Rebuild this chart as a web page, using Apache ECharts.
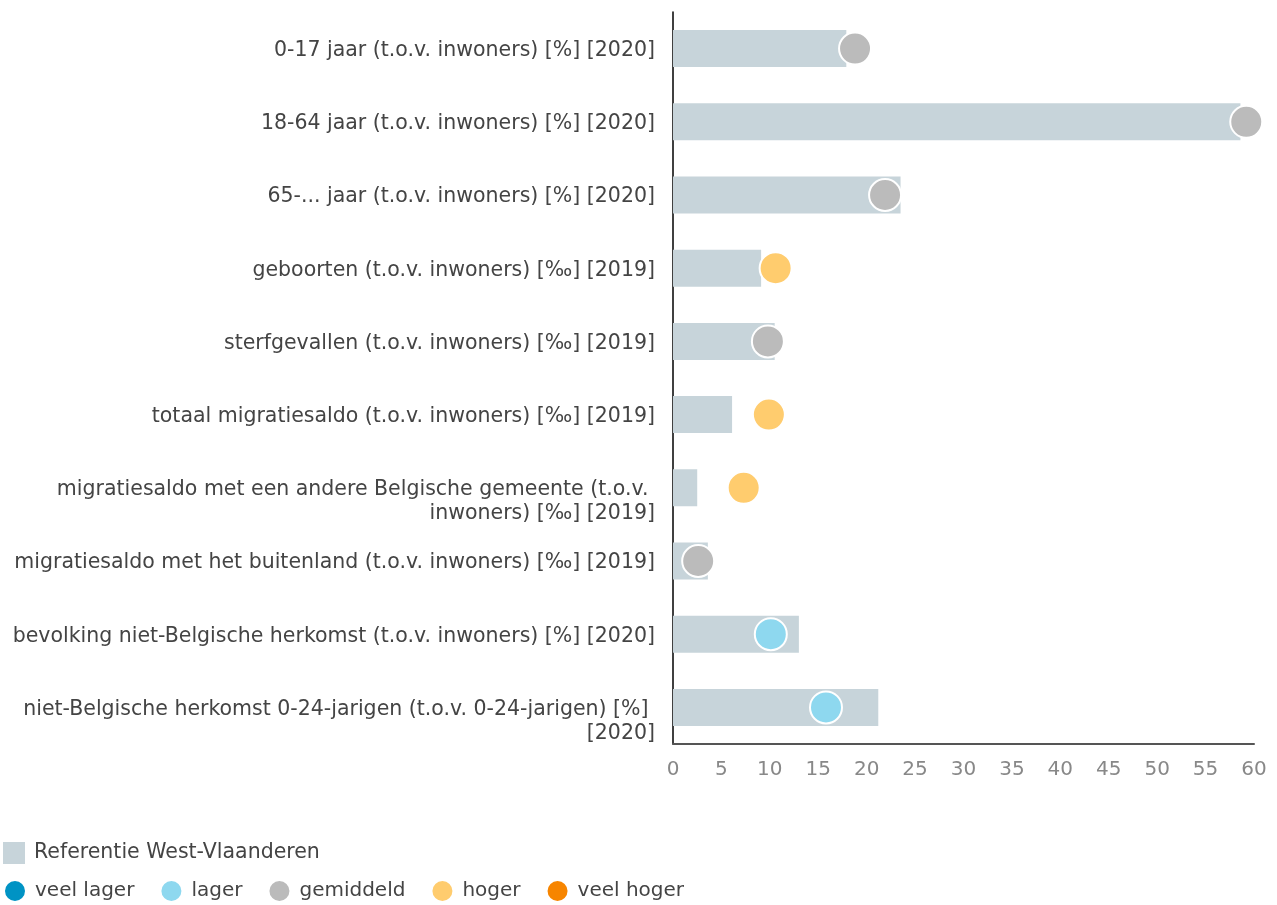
<!DOCTYPE html>
<html>
<head>
<meta charset="utf-8">
<script src="https://cdn.jsdelivr.net/npm/echarts@6/dist/echarts.min.js"></script>
<style>
  html, body { margin: 0; padding: 0; background: #fff; }
  #chart { width: 1277px; height: 905px; }
</style>
</head>
<body>
<div id="chart"></div>
<script>
// indicatoren (van boven naar onder)
var categories = [
  '0-17 jaar (t.o.v. inwoners) [%] [2020]',
  '18-64 jaar (t.o.v. inwoners) [%] [2020]',
  '65-... jaar (t.o.v. inwoners) [%] [2020]',
  'geboorten (t.o.v. inwoners) [‰] [2019]',
  'sterfgevallen (t.o.v. inwoners) [‰] [2019]',
  'totaal migratiesaldo (t.o.v. inwoners) [‰] [2019]',
  'migratiesaldo met een andere Belgische gemeente (t.o.v. inwoners) [‰] [2019]',
  'migratiesaldo met het buitenland (t.o.v. inwoners) [‰] [2019]',
  'bevolking niet-Belgische herkomst (t.o.v. inwoners) [%] [2020]',
  'niet-Belgische herkomst 0-24-jarigen (t.o.v. 0-24-jarigen) [%] [2020]'
];
var referentie = [17.9, 58.6, 23.5, 9.1, 10.5, 6.1, 2.5, 3.6, 13.0, 21.2];
var gemeente = [18.8, 59.2, 21.9, 10.6, 9.8, 9.9, 7.3, 2.6, 10.1, 15.8];
var klasse = ['gemiddeld', 'gemiddeld', 'gemiddeld', 'hoger', 'gemiddeld',
  'hoger', 'hoger', 'gemiddeld', 'lager', 'lager'];
var klassen = ['veel lager', 'lager', 'gemiddeld', 'hoger', 'veel hoger'];
var klasseKleur = ['#0093c4', '#8ed8ef', '#bbbbbb', '#ffcc6e', '#f78500'];
var xTicks = { min: 0, max: 60, interval: 5 };

var font = 'DejaVu Sans';
var chart = echarts.init(document.getElementById('chart'));

var series = [{
  name: 'Referentie West-Vlaanderen',
  type: 'bar',
  data: referentie,
  barWidth: 37,
  itemStyle: { color: '#c7d4da' },
  z: 1
}];
klassen.forEach(function (k, i) {
  var pts = [];
  gemeente.forEach(function (v, j) {
    if (klasse[j] === k) pts.push([v, categories[j]]);
  });
  series.push({
    name: k,
    type: 'scatter',
    data: pts,
    symbolSize: 32,
    itemStyle: { color: klasseKleur[i], borderColor: '#fff', borderWidth: 2, opacity: 1 },
    z: 3
  });
});

chart.setOption({
  animation: false,
  textStyle: { fontFamily: font },
  grid: { left: 673, right: 23, top: 12, bottom: 161, containLabel: false, outerBoundsMode: 'none' },
  legend: [{
    data: ['Referentie West-Vlaanderen'],
    left: 3, top: 842, padding: 0,
    itemWidth: 22, itemHeight: 22,
    icon: 'rect',
    textStyle: { fontFamily: font, fontSize: 20.5, color: '#444', padding: [0, 0, 0, 4] },
    selectedMode: false
  }, {
    data: klassen,
    left: 3, top: 879, padding: 0,
    itemWidth: 22, itemHeight: 22,
    itemGap: 25,
    icon: 'circle',
    textStyle: { fontFamily: font, fontSize: 20, color: '#444', padding: [0, 0, 0, 4] },
    selectedMode: false
  }],
  xAxis: {
    type: 'value',
    min: xTicks.min, max: xTicks.max, interval: xTicks.interval,
    splitLine: { show: false },
    axisLine: { show: true, lineStyle: { color: '#555', width: 2 } },
    axisTick: { show: false },
    axisLabel: { color: '#888', fontFamily: font, fontSize: 20, margin: 16 }
  },
  yAxis: {
    type: 'category',
    data: categories,
    inverse: true,
    axisLine: { show: true, lineStyle: { color: '#000', width: 1.5 } },
    axisTick: { show: false },
    axisLabel: {
      color: '#444', fontFamily: font, fontSize: 20.5, margin: 18,
      width: 655, overflow: 'break', lineHeight: 24, align: 'right',
      verticalAlign: 'top', padding: [-10, 0, 0, 0]
    }
  },
  series: series
});
</script>
</body>
</html>
